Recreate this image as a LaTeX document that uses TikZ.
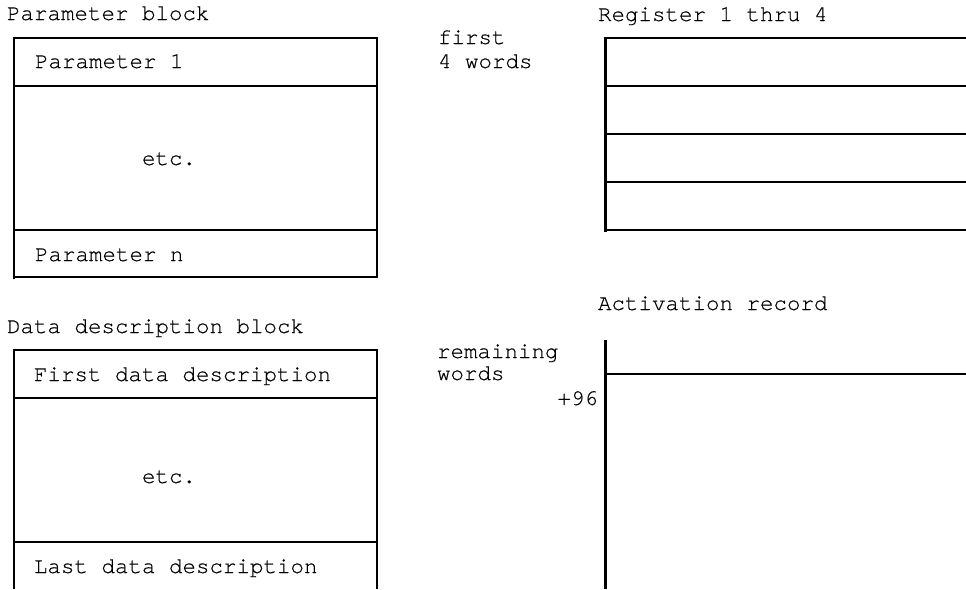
\documentclass[tikz,border=0pt]{standalone}
\usepackage{fontspec}
\setmainfont[Ligatures=NoCommon,FakeBold=0.4]{TeX Gyre Cursor}
\begin{document}
\begin{tikzpicture}[x=1pt,y=-1pt,
  lbl/.style={anchor=base west,inner sep=0pt,outer sep=0pt,
    font=\fontsize{22.5}{24}\selectfont},
  hline/.style={line width=2pt},
  vline/.style={line width=2.6pt}]
\useasboundingbox (0,0) rectangle (966,589);

% ---- Parameter block ----
\node[lbl] (pbt) at (7,20) {Parameter block};
\draw[hline] (14,38) -- (377,38) (14,86) -- (377,86)
             (14,230) -- (377,230) (14,277) -- (377,277);
\draw[vline] (14,37) -- (14,279) (377,37) -- (377,278);
\node[lbl] (pa1) at (35,68) {Parameter 1};
\node[lbl] (pae) at (142,165) {etc.};
\node[lbl] (pan) at (35,261) {Parameter n};

% ---- Data description block ----
\node[lbl] (ddt) at (7,333) {Data description block};
\draw[hline] (14,350) -- (377,350) (14,398) -- (377,398) (14,542) -- (377,542);
\draw[vline] (14,349) -- (14,589) (377,349) -- (377,589);
\node[lbl] (dd1) at (34,381) {First data description};
\node[lbl] (dde) at (142,483) {etc.};
\node[lbl] (ddn) at (34,573) {Last data description};

% ---- Registers 1 thru 4 ----
\node[lbl] (rgt) at (598,21) {Register 1 thru 4};
\node[lbl] (rf1) at (438,44) {first};
\node[lbl] (rf2) at (438,68) {4 words};
\foreach \yy in {38,86,134,182,230}
  \draw[hline] (605,\yy) -- (966,\yy);
\draw[vline] (605.5,37) -- (605.5,232);

% ---- Activation record ----
\node[lbl] (act) at (598,310) {Activation record};
\node[lbl] (rw1) at (437,358) {remaining};
\node[lbl] (rw2) at (437,380) {words};
\node[lbl,anchor=base east] (off) at (598,405) {+96};
\draw[vline] (605.5,340) -- (605.5,589);
\draw[hline] (605,374) -- (966,374);
\end{tikzpicture}
\end{document}
